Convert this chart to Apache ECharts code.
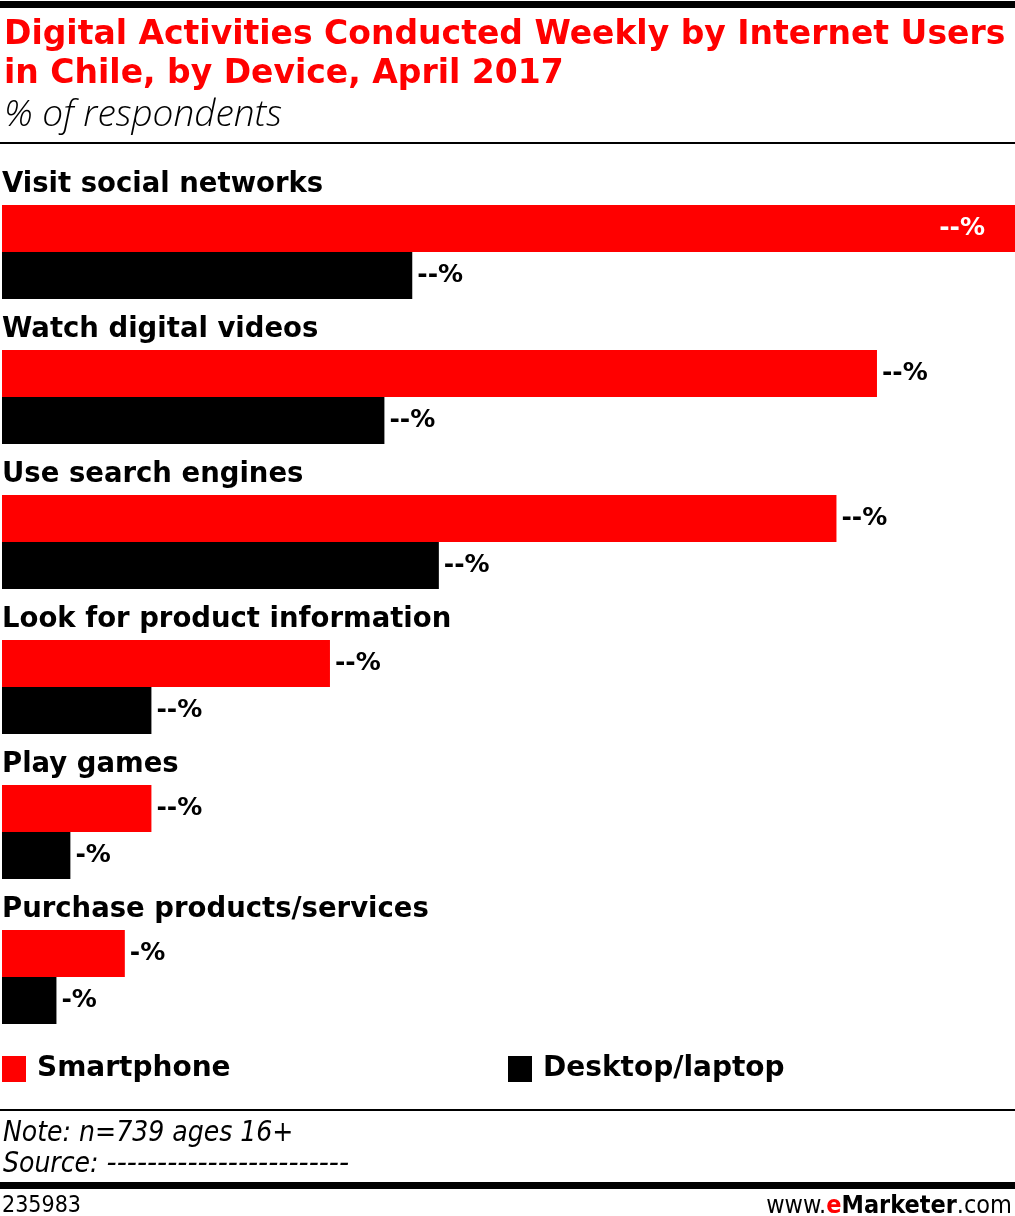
<!DOCTYPE html>
<html>
<head>
<meta charset="utf-8">
<script src="https://cdn.jsdelivr.net/npm/echarts@6/dist/echarts.min.js"></script>
<style>
  html, body { margin: 0; padding: 0; background: #fff; }
  #chart { width: 1015px; height: 1216px; }
</style>
</head>
<body>
<div id="chart"></div>
<script>
const categories = [
  'Visit social networks',
  'Watch digital videos',
  'Use search engines',
  'Look for product information',
  'Play games',
  'Purchase products/services'
]
const smartphone = [80, 69.1, 65.9, 25.9, 11.8, 9.7]
const desktop = [32.4, 30.2, 34.5, 11.8, 5.4, 4.3]
const smartphoneLabels = ['--%', '--%', '--%', '--%', '--%', '-%']
const desktopLabels = ['--%', '--%', '--%', '--%', '-%', '-%']

const RED = '#ff0000'
const BOLD = '"DejaVu Sans", sans-serif'
const NARROW = '"DejaVu Sans Condensed", "Liberation Sans Narrow", sans-serif'

let myChart = echarts.init(document.getElementById('chart'))

let valueLabel = {
  show: true,
  position: 'right',
  distance: 5,
  color: '#000',
  fontFamily: BOLD,
  fontWeight: 'bold',
  fontSize: 25
}

let smartData = smartphone.map((v, i) => {
  let item = { value: v }
  // the longest bar keeps its label inside
  if (i === 0) item.label = { position: 'insideRight', color: '#fff', distance: 30 }
  return item
})

let option = {
  animation: false,
  title: [
    {
      text: 'Digital Activities Conducted Weekly by Internet Users\nin Chile, by Device, April 2017',
      left: 4, top: 16, padding: 0,
      textStyle: { color: RED, fontFamily: BOLD, fontWeight: 'bold', fontSize: 33, lineHeight: 39 }
    },
    {
      text: '% of respondents',
      left: 4, top: 97, padding: 0,
      textStyle: { color: '#000', fontFamily: '"Open Sans", sans-serif', fontStyle: 'italic', fontWeight: 300, fontSize: 37 }
    },
    {
      text: '{n|Note: n=739 ages 16+}\n{n|Source: }{d|------------------------}',
      left: 3, top: 1118, padding: 0,
      textStyle: {
        rich: {
          n: { color: '#000', fontFamily: NARROW, fontStyle: 'italic', fontWeight: 'normal', fontSize: 28, lineHeight: 31 },
          d: { color: '#000', fontFamily: BOLD, fontStyle: 'italic', fontWeight: 'normal', fontSize: 28, lineHeight: 31 }
        }
      }
    },
    {
      text: '235983',
      left: 2, top: 1195, padding: 0,
      textStyle: { color: '#000', fontFamily: NARROW, fontWeight: 'normal', fontSize: 23 }
    },
    {
      text: '{a|www.}{b|e}{c|Marketer}{a|.com}',
      right: 3, top: 1194, padding: 0,
      textStyle: {
        rich: {
          a: { color: '#000', fontFamily: NARROW, fontWeight: 'normal', fontSize: 25 },
          b: { color: RED, fontFamily: NARROW, fontWeight: 'bold', fontSize: 25 },
          c: { color: '#000', fontFamily: NARROW, fontWeight: 'bold', fontSize: 25 }
        }
      }
    }
  ],
  legend: [
    {
      data: ['Smartphone'],
      left: 2, top: 1055, padding: 0,
      icon: 'rect', itemWidth: 24, itemHeight: 26,
      textStyle: { color: '#000', fontFamily: BOLD, fontWeight: 'bold', fontSize: 28, padding: [0, 0, 0, 6] }
    },
    {
      data: ['Desktop/laptop'],
      left: 508, top: 1055, padding: 0,
      icon: 'rect', itemWidth: 24, itemHeight: 26,
      textStyle: { color: '#000', fontFamily: BOLD, fontWeight: 'bold', fontSize: 28, padding: [0, 0, 0, 6] }
    }
  ],
  graphic: [
    { type: 'rect', shape: { x: 0, y: 1, width: 1015, height: 7 }, style: { fill: '#000' } },
    { type: 'rect', shape: { x: 0, y: 142, width: 1015, height: 2 }, style: { fill: '#000' } },
    { type: 'rect', shape: { x: 0, y: 1109, width: 1015, height: 2 }, style: { fill: '#000' } },
    { type: 'rect', shape: { x: 0, y: 1182, width: 1015, height: 7 }, style: { fill: '#000' } }
  ],
  grid: {
    left: 2,
    right: 0,
    top: 179.5,
    height: 870,
    containLabel: false
  },
  xAxis: {
    type: 'value',
    min: 0,
    max: 80,
    show: false
  },
  yAxis: {
    type: 'category',
    data: categories,
    inverse: true,
    axisLine: { show: false },
    axisTick: { show: false },
    axisLabel: { show: false }
  },
  series: [
    {
      name: 'Smartphone',
      type: 'bar',
      data: smartData,
      barWidth: 47,
      barGap: '0%',
      itemStyle: { color: RED },
      label: Object.assign({}, valueLabel, {
        formatter: p => smartphoneLabels[p.dataIndex]
      })
    },
    {
      name: 'Desktop/laptop',
      type: 'bar',
      data: desktop,
      barWidth: 47,
      barGap: '0%',
      itemStyle: { color: '#000' },
      label: Object.assign({}, valueLabel, {
        formatter: p => desktopLabels[p.dataIndex]
      })
    },
    {
      // category names sit above each pair of bars
      name: 'names',
      type: 'scatter',
      data: categories.map(c => [0, c]),
      symbolSize: 0,
      silent: true,
      itemStyle: { opacity: 1 },
      label: {
        show: true,
        position: 'right',
        distance: 0,
        offset: [0, -67],
        color: '#000',
        opacity: 1,
        fontFamily: BOLD,
        fontWeight: 'bold',
        fontSize: 27.5,
        formatter: p => categories[p.dataIndex]
      }
    }
  ]
}

myChart.setOption(option)
</script>
</body>
</html>
